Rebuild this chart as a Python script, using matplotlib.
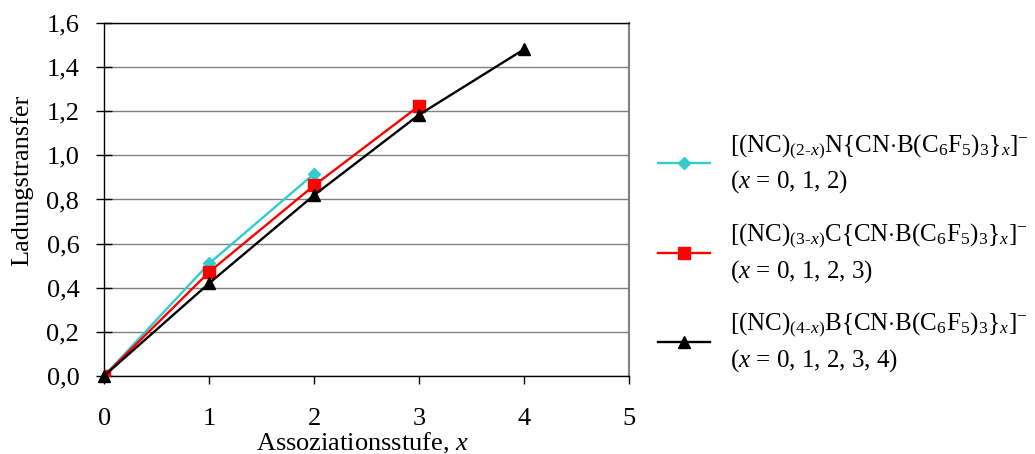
import matplotlib
matplotlib.use("Agg")
import matplotlib.pyplot as plt

plt.rcParams['font.family'] = ['Liberation Serif', 'DejaVu Serif']
plt.rcParams['mathtext.fontset'] = 'custom'
plt.rcParams['mathtext.rm'] = 'Liberation Serif'
plt.rcParams['mathtext.it'] = 'Liberation Serif:italic'
plt.rcParams['mathtext.bf'] = 'Liberation Serif:bold'

# Data
x_n = [0, 1, 2]
y_n = [0.0, 0.51, 0.917]
x_c = [0, 1, 2, 3]
y_c = [0.0, 0.471, 0.864, 1.225]
x_b = [0, 1, 2, 3, 4]
y_b = [0.0, 0.42, 0.82, 1.185, 1.482]

x_ticks = [0, 1, 2, 3, 4, 5]
x_ticklabels = ['0', '1', '2', '3', '4', '5']
y_ticks = [0.0, 0.2, 0.4, 0.6, 0.8, 1.0, 1.2, 1.4, 1.6]
y_ticklabels = ['0,0', '0,2', '0,4', '0,6', '0,8', '1,0', '1,2', '1,4', '1,6']

labels = [
    r'[(NC)$_{\mathit{(2\text{-}x)}}$N{CN$\cdot$B(C$_{6}$F$_{5}$)$_{3}$}$_{x}$]$^{-}$' + '\n' + r'($x$ = 0, 1, 2)',
    r'[(NC)$_{\mathit{(3\text{-}x)}}$C{CN$\cdot$B(C$_{6}$F$_{5}$)$_{3}$}$_{x}$]$^{-}$' + '\n' + r'($x$ = 0, 1, 2, 3)',
    r'[(NC)$_{\mathit{(4\text{-}x)}}$B{CN$\cdot$B(C$_{6}$F$_{5}$)$_{3}$}$_{x}$]$^{-}$' + '\n' + r'($x$ = 0, 1, 2, 3, 4)',
]

W, H = 1035, 454
fig = plt.figure(figsize=(W / 100, H / 100), dpi=100)
ax = fig.add_axes([104.3 / W, 1 - 375.7 / H, (629 - 104.3) / W, (375.7 - 23.3) / H])

h1, = ax.plot(x_n, y_n, color='#33CCCC', lw=1.7, marker='D', ms=6.5, zorder=3)
h2, = ax.plot(x_c, y_c, color='#FF0000', lw=1.7, marker='s', ms=8.5, zorder=4)
h3, = ax.plot(x_b, y_b, color='#000000', lw=1.7, marker='^', ms=9, zorder=5, clip_on=False)

ax.set_xlim(0, 5)
ax.set_ylim(0, 1.6)
ax.set_xticks(x_ticks)
ax.set_xticklabels(x_ticklabels)
ax.set_yticks(y_ticks)
ax.set_yticklabels(y_ticklabels)
ax.yaxis.grid(True, color='#808080', lw=1.0)
ax.set_axisbelow(True)
ax.tick_params(axis='y', direction='inout', length=12, width=1, labelsize=19, pad=12)
ax.tick_params(axis='x', direction='out', length=6, width=1, labelsize=19, pad=17)
for s in ['left', 'bottom', 'top']:
    ax.spines[s].set_color('black')
    ax.spines[s].set_linewidth(1.0)
ax.spines['right'].set_color('#808080')
ax.spines['right'].set_linewidth(1.5)

fig.text(22 / W, 1 - 180 / H, 'Ladungstransfer', rotation=90, ha='center', va='center', fontsize=19)
fig.text(362 / W, 1 - 443 / H, 'Assoziationsstufe, $x$', ha='center', va='center', fontsize=19)

fs_leg = 18
leg = fig.legend([h1, h2, h3], labels, loc='center left', bbox_to_anchor=(635 / W, 1 - 253 / H),
                 frameon=False, fontsize=fs_leg, handlelength=2.1, handletextpad=0.8,
                 labelspacing=1.05)
for t in leg.get_texts():
    t.set_linespacing(1.4)

fig.savefig('out.png', dpi=100)
